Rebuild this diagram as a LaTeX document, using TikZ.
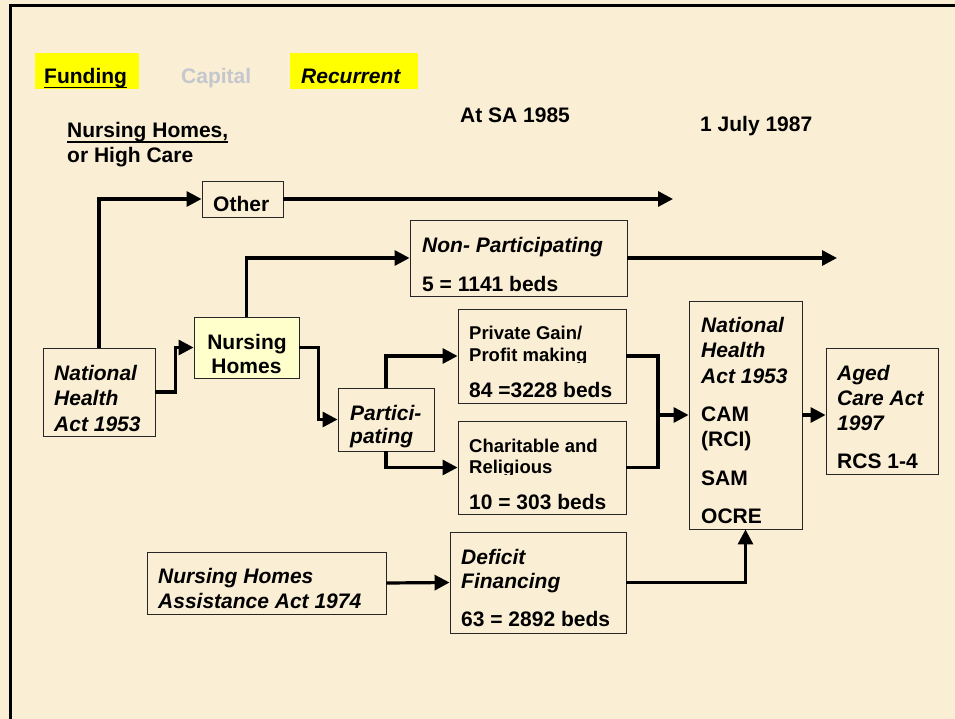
\documentclass[tikz,border=0pt]{standalone}
\usepackage{fontspec}
\setmainfont{Liberation Sans}
\usetikzlibrary{arrows.meta}
\definecolor{paper}{RGB}{250,238,212}
\definecolor{hilite}{RGB}{255,255,0}
\definecolor{nhfill}{RGB}{255,255,204}
\definecolor{faded}{RGB}{196,199,206}
\begin{document}
\begin{tikzpicture}[x=1pt,y=-1pt,
  box/.style={draw=black!85, line width=0.9pt, inner sep=0pt},
  mark bg/.style={fill=hilite, inner sep=0pt},
  txt/.style={inner sep=0pt, anchor=base west, font=\fontsize{21}{25}\selectfont\bfseries},
  itxt/.style={txt, font=\fontsize{21}{25}\selectfont\bfseries\itshape},
  stxt/.style={txt, font=\fontsize{18.5}{22}\selectfont\bfseries},
  conn/.style={line width=3.2pt, draw=black},
  arr/.style={conn, -{Triangle[length=15pt,width=15pt]}},
  ul/.style={line width=1.8pt}
]
% page and frame
\useasboundingbox (0,0) rectangle (955,719);
\fill[paper] (0,0) rectangle (955,719);
\draw[line width=2.2pt] (10.5,719) -- (10.5,5.5) -- (955,5.5);

% heading row
\node[mark bg, minimum width=104pt, minimum height=36pt] (fundbg) at (87,71) {};
\node[mark bg, minimum width=128pt, minimum height=36pt] (recbg) at (354,71) {};
\node[txt] (fund) at (44,84) {Funding};
\draw[ul] ([yshift=-3.5pt]fund.base west) -- ([yshift=-3.5pt]fund.base east);
\node[txt, text=faded] (cap) at (181,84) {Capital};
\node[itxt] (rec) at (301,84) {Recurrent};

\node[txt] (hc1) at (67,138) {Nursing Homes,};
\draw[ul] ([yshift=-3.8pt]hc1.base west) -- ([yshift=-3.8pt]hc1.base east);
\node[txt] (hc2) at (67,163) {or High Care};
\node[txt] (sa85) at (460,123) {At SA 1985};
\node[txt] (jul87) at (700,131.6) {1 July 1987};

% boxes
\node[box, minimum width=112pt, minimum height=88pt] (nha) at (99,392) {};
\node[box, fill=nhfill, minimum width=105pt, minimum height=61pt] (nh) at (246.5,347.5) {};
\node[box, minimum width=81pt, minimum height=36pt] (other) at (242.5,199) {};
\node[box, minimum width=217pt, minimum height=76pt] (nonp) at (518.5,258) {};
\node[box, minimum width=96pt, minimum height=63pt] (part) at (386,419.5) {};
\node[box, minimum width=168pt, minimum height=94pt] (priv) at (542,356) {};
\node[box, minimum width=168pt, minimum height=93pt] (char) at (542,467.5) {};
\node[box, minimum width=113pt, minimum height=228pt] (nhb) at (745.5,415) {};
\node[box, minimum width=112pt, minimum height=126pt] (aged) at (882,411) {};
\node[box, minimum width=239pt, minimum height=62pt] (nhaa) at (266.5,583) {};
\node[box, minimum width=176pt, minimum height=101pt] (def) at (538,582.5) {};

% box texts
\node[itxt] (nha1) at (54,380) {National};
\node[itxt] (nha2) at (54,405.7) {Health};
\node[itxt] (nha3) at (54,431) {Act 1953};

\node[txt, anchor=base] (nh1) at (247,349) {Nursing};
\node[txt, anchor=base] (nh2) at (246.5,373) {Homes};

\node[txt] (oth) at (213,212) {Other};

\node[itxt] (np1) at (422,252.7) {Non- Participating};
\node[txt] (np2) at (422,291) {5 = 1141 beds};

\node[itxt] (pa1) at (350,420) {Partici-};
\node[itxt] (pa2) at (350,443.5) {pating};

\node[stxt] (pr1) at (469,339) {Private Gain/};
\begin{scope}
  \clip (460,345) rectangle (624,362.6);
  \node[stxt] (pr2) at (469,361.8) {Profit making};
\end{scope}
\node[txt] (pr3) at (469,397) {84 =3228 beds};

\node[stxt] (ch1) at (469,452) {Charitable and};
\begin{scope}
  \clip (460,456) rectangle (624,474.2);
  \node[stxt] (ch2) at (469,473.4) {Religious};
\end{scope}
\node[txt] (ch3) at (469,509) {10 = 303 beds};

\node[itxt] (nb1) at (701,332.7) {National};
\node[itxt] (nb2) at (701,357.7) {Health};
\node[itxt] (nb3) at (701,383.3) {Act 1953};
\node[txt] (nb4) at (701,421.7) {CAM};
\node[txt] (nb5) at (701,446) {(RCI)};
\node[txt] (nb6) at (701,485.7) {SAM};
\node[txt] (nb7) at (701,523.3) {OCRE};

\node[itxt] (ag1) at (837,380) {Aged};
\node[itxt] (ag2) at (837,405) {Care Act};
\node[itxt] (ag3) at (837,430.7) {1997};
\node[txt] (ag4) at (837,468.3) {RCS 1-4};

\node[itxt] (na1) at (158,583) {Nursing Homes};
\node[itxt] (na2) at (158,608) {Assistance Act 1974};

\node[itxt] (df1) at (461,564) {Deficit};
\node[itxt] (df2) at (461,588) {Financing};
\node[txt] (df3) at (461,626) {63 = 2892 beds};

% connectors
\coordinate (otherEnd) at (673,199);
\coordinate (nonpEnd) at (837,258);
\coordinate (brk) at (658,415);

\draw[arr] (nha.north) |- (other.west);
\draw[arr] (other.east) -- (otherEnd);
\draw[arr] (nha.east) -- ++(20,0) |- (nh.west);
\draw[arr] (nh.north) |- (nonp.west);
\draw[arr] (nonp.east) -- (nonpEnd);
\draw[arr] (nh.east) -- ++(19,0) |- (part.west);
\draw[arr] (part.north) |- (priv.west);
\draw[arr] (part.south) |- (char.west);
\draw[conn] (priv.east) -| (brk) |- (char.east);
\draw[arr] (brk) -- (nhb.west);
\draw[arr] (nhb.east) -- (aged.west |- nhb.east);
\draw[arr] (nhaa.east) -- (def.west);
\draw[arr] (def.east) -| (nhb.south);
\end{tikzpicture}
\end{document}
